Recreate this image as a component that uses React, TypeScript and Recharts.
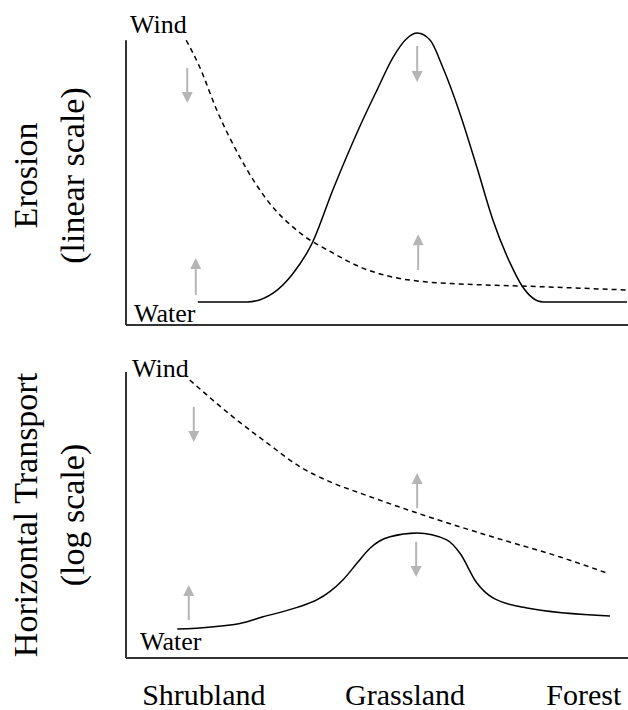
import { LineChart, Line, XAxis, YAxis, ReferenceLine, ReferenceDot } from "recharts";

// position along the gradient, 0 = left edge of plot, 100 = right edge
const categories = ["Shrubland", "Grassland", "Forest"];
const categoryPos = [15.5, 55.6, 91.2];

// top panel – erosion (linear scale)
const erosionWaterX = [14.3, 24.1, 29.3, 33.3, 37.1, 41.2, 46.6, 50.0, 53.2, 56.0, 58.0, 60.6, 63.1, 66.5, 69.9, 73.1, 76.5, 78.9, 83.1, 99.8];
const erosionWaterY = [8.1, 8.1, 11.2, 18.2, 28.8, 47.4, 69.8, 82.5, 94.0, 100.7, 102.5, 100.0, 90.5, 74.4, 55.4, 36.8, 21.8, 13.7, 8.1, 8.1];
const erosionWindX = [12.0, 14.7, 18.1, 22.7, 28.1, 34.7, 41.2, 46.6, 53.2, 60.0, 66.5, 78.5, 99.8];
const erosionWindY = [100, 90.5, 75.4, 58.9, 43.9, 32.3, 25.3, 20.4, 16.8, 15.1, 14.4, 13.7, 12.3];

// bottom panel – horizontal transport (log scale, drawn in display units)
const transportWaterX = [10.2, 22.7, 27.3, 34.1, 38.0, 40.6, 43.2, 46.0, 48.6, 50.6, 52.6, 58.0, 63.9, 66.5, 69.9, 73.1, 79.9, 96.4];
const transportWaterY = [10.1, 12.1, 14.4, 17.7, 20.3, 23.2, 27.3, 33.1, 38.4, 41.0, 42.4, 43.7, 41.3, 36.7, 26.2, 21.0, 17.5, 14.7];
const transportWindX = [12.7, 21.3, 28.1, 34.7, 41.2, 47.2, 58.0, 73.1, 86.5, 95.8];
const transportWindY = [97.2, 84.3, 75.2, 66.8, 61.2, 57.3, 50.7, 42.3, 35.3, 29.7];

// grey arrows: x, tail value, head value
const erosionArrowX = [12.2, 13.9, 58.0, 58.2];
const erosionArrowFrom = [90.3, 10.5, 98.0, 19.3];
const erosionArrowTo = [78.0, 23.5, 85.3, 31.9];
const transportArrowX = [13.5, 12.5, 58.0, 57.8];
const transportArrowFrom = [87.8, 13.3, 52.4, 40.6];
const transportArrowTo = [75.5, 25.5, 64.7, 28.3];

// curve name labels
const seriesNames = ["Wind", "Water"];
const erosionNameX = [0.8, 1.6];
const erosionNameY = [102.5, 1.05];
const transportNameX = [1.2, 2.8];
const transportNameY = [98.3, 2.8];

const FONT = "'Liberation Serif', 'Times New Roman', serif";
const AXIS = "#333";
const ARROW = "#b5b5b5";

const zip = (xs: number[], ys: number[]) => xs.map((x, i) => ({ x, y: ys[i] }));

function Arrow(props: any) {
  const { x1, y1, x2, y2 } = props;
  const dir = y2 < y1 ? -1 : 1;
  const head = 11;
  const baseY = y2 - dir * head;
  return (
    <g>
      <line x1={x1} y1={y1} x2={x2} y2={baseY} stroke={ARROW} strokeWidth={2} />
      <polygon points={`${x2 - 5.5},${baseY} ${x2 + 5.5},${baseY} ${x2},${y2}`} fill={ARROW} />
    </g>
  );
}

interface PanelProps {
  height: number;
  marginTop: number;
  xAxisHeight: number;
  yMax: number;
  title: string[];
  water: { x: number; y: number }[];
  wind: { x: number; y: number }[];
  arrowX: number[];
  arrowFrom: number[];
  arrowTo: number[];
  nameX: number[];
  nameY: number[];
  showCategories?: boolean;
}

function Panel(p: PanelProps) {
  const renderTitle = (props: any) => {
    const vb = props.viewBox || {};
    const cy = vb.y + vb.height / 2;
    const cx = 37;
    return (
      <text
        transform={`rotate(-90, ${cx}, ${cy})`}
        textAnchor="middle"
        fontFamily={FONT}
        fontSize={34}
        fill="#000"
      >
        <tspan x={cx} y={cy}>{p.title[0]}</tspan>
        <tspan x={cx} y={cy + 47}>{p.title[1]}</tspan>
      </text>
    );
  };

  const renderCategory = (props: any) => {
    const i = categoryPos.indexOf(props.payload.value);
    return (
      <text x={props.x} y={props.y + 39} textAnchor="middle" fontFamily={FONT} fontSize={30} fill="#000">
        {categories[i]}
      </text>
    );
  };

  return (
    <LineChart width={628} height={p.height} margin={{ top: p.marginTop, right: 0, bottom: 0, left: 0 }}>
      <XAxis
        type="number"
        dataKey="x"
        domain={[0, 100]}
        ticks={p.showCategories ? categoryPos : []}
        tick={p.showCategories ? renderCategory : false}
        tickLine={false}
        height={p.xAxisHeight}
        axisLine={{ stroke: AXIS, strokeWidth: 2 }}
      />
      <YAxis
        type="number"
        dataKey="y"
        domain={[0, p.yMax]}
        width={126}
        tick={false}
        tickLine={false}
        axisLine={false}
        label={renderTitle}
      />
      <ReferenceLine
        segment={[{ x: 0, y: 0 }, { x: 0, y: 100 }]}
        stroke={AXIS}
        strokeWidth={2}
        ifOverflow="visible"
      />
      {p.arrowX.map((x, i) => (
        <ReferenceLine
          key={`a${i}`}
          segment={[{ x, y: p.arrowFrom[i] }, { x, y: p.arrowTo[i] }]}
          ifOverflow="visible"
          shape={Arrow}
        />
      ))}
      <Line
        data={p.wind}
        dataKey="y"
        type="monotone"
        stroke="#000"
        strokeWidth={1.5}
        strokeDasharray="5 4"
        dot={false}
        isAnimationActive={false}
      />
      <Line
        data={p.water}
        dataKey="y"
        type="monotone"
        stroke="#000"
        strokeWidth={1.5}
        dot={false}
        isAnimationActive={false}
      />
      {seriesNames.map((name, i) => (
        <ReferenceDot
          key={name}
          x={p.nameX[i]}
          y={p.nameY[i]}
          r={1}
          ifOverflow="visible"
          shape={(s: any) => (
            <text x={s.cx} y={s.cy} fontFamily={FONT} fontSize={26} fill="#000">
              {name}
            </text>
          )}
        />
      ))}
    </LineChart>
  );
}

export default function App() {
  return (
    <div style={{ position: "absolute", left: 0, top: 0, width: 628, height: 710, background: "#fff" }}>
      <Panel
        height={340}
        marginTop={26}
        xAxisHeight={15}
        yMax={105}
        title={["Erosion", "(linear scale)"]}
        water={zip(erosionWaterX, erosionWaterY)}
        wind={zip(erosionWindX, erosionWindY)}
        arrowX={erosionArrowX}
        arrowFrom={erosionArrowFrom}
        arrowTo={erosionArrowTo}
        nameX={erosionNameX}
        nameY={erosionNameY}
      />
      <Panel
        height={370}
        marginTop={32}
        xAxisHeight={52}
        yMax={100}
        title={["Horizontal Transport", "(log scale)"]}
        water={zip(transportWaterX, transportWaterY)}
        wind={zip(transportWindX, transportWindY)}
        arrowX={transportArrowX}
        arrowFrom={transportArrowFrom}
        arrowTo={transportArrowTo}
        nameX={transportNameX}
        nameY={transportNameY}
        showCategories
      />
    </div>
  );
}
